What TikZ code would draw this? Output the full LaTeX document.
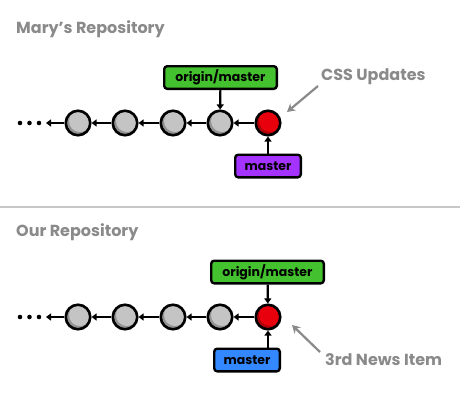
\documentclass[tikz,border=0pt]{standalone}
\usepackage{fontspec}
\setmainfont{Poppins}
\usetikzlibrary{arrows.meta}

\definecolor{commitgray}{HTML}{C4C4C4}
\definecolor{commitred}{HTML}{E8000C}
\definecolor{branchgreen}{HTML}{44C12E}
\definecolor{branchpurple}{HTML}{A533FF}
\definecolor{branchblue}{HTML}{3388FF}
\definecolor{notegray}{HTML}{8A8A8A}

\tikzset{
    commit/.style={circle, draw, line width=2.6pt, minimum size=24.5pt, inner sep=0pt,
        fill=#1!75!black,
        path picture={\fill[#1] ([shift={(2pt,2pt)}]path picture bounding box.center) circle (11pt);}},
    branch/.style={draw, line width=2.4pt, rounded corners=3pt, fill=#1,
        minimum height=22.6pt, inner sep=0pt, font=\bfseries\fontsize{12.5}{14}\selectfont},
    arr/.style={line width=2.2pt, -{Triangle[length=5pt,width=7pt]}},
    callout/.style={notegray, line width=2.2pt, -{Stealth[length=8pt,width=9pt]}},
    title/.style={anchor=west, inner sep=0pt, text=notegray, font=\bfseries\fontsize{16}{19}\selectfont},
    note/.style={anchor=west, inner sep=0pt, text=notegray, font=\bfseries\fontsize{16}{19}\selectfont},
}

\begin{document}
\begin{tikzpicture}[x=1pt, y=-1pt]
    \useasboundingbox[fill=white] (0, 0) rectangle (460, 400);
    %\draw[lightgray] (0, 0) grid[step=20] (460, 400);

    % Mary's repository
    \node[title] (title1) at (16, 29) {Mary’s Repository};
    \node[commit=commitgray] (c11) at (78, 123) {};
    \node[commit=commitgray] (c12) at (125, 123) {};
    \node[commit=commitgray] (c13) at (173, 123) {};
    \node[commit=commitgray] (c14) at (220, 123) {};
    \node[commit=commitred] (c15) at (268, 123) {};
    \coordinate (dots1) at (46, 123);
    \foreach \x in {20, 29.5, 39}
        \fill (\x, 123) circle (2.3);
    \draw[arr] (c15) -- (c14);
    \draw[arr] (c14) -- (c13);
    \draw[arr] (c13) -- (c12);
    \draw[arr] (c12) -- (c11);
    \draw[arr] (c11) -- (dots1);
    \node[branch=branchgreen, minimum width=112.6pt] (om1) at (220.5, 77.5) {origin/master};
    \node[branch=branchpurple, minimum width=65.6pt] (m1) at (268, 166) {master};
    \draw[arr] (om1) -- (c14);
    \draw[arr] (m1) -- (c15);
    \node[note] (note1) at (321, 77) {CSS Updates};
    \coordinate (from1) at (318, 86);
    \coordinate (to1) at (287, 112);
    \draw[callout] (from1) -- (to1);

    \draw[line width=2pt, black!22] (0, 207) -- (460, 207);

    % our repository
    \node[title] (title2) at (16, 232) {Our Repository};
    \node[commit=commitgray] (c21) at (78, 317) {};
    \node[commit=commitgray] (c22) at (125, 317) {};
    \node[commit=commitgray] (c23) at (173, 317) {};
    \node[commit=commitgray] (c24) at (220, 317) {};
    \node[commit=commitred] (c25) at (268, 317) {};
    \coordinate (dots2) at (46, 317);
    \foreach \x in {20, 29.5, 39}
        \fill (\x, 317) circle (2.3);
    \draw[arr] (c25) -- (c24);
    \draw[arr] (c24) -- (c23);
    \draw[arr] (c23) -- (c22);
    \draw[arr] (c22) -- (c21);
    \draw[arr] (c21) -- (dots2);
    \node[branch=branchgreen, minimum width=112.6pt] (om2) at (267.5, 272) {origin/master};
    \node[branch=branchblue, minimum width=65.6pt] (m2) at (247, 360) {master};
    \draw[arr] (om2) -- (c25);
    \draw[arr] (m2.north -| c25) -- (c25);
    \node[note] (note2) at (325, 360) {3rd News Item};
    \coordinate (from2) at (320, 352);
    \coordinate (to2) at (292, 325);
    \draw[callout] (from2) -- (to2);
\end{tikzpicture}
\end{document}
